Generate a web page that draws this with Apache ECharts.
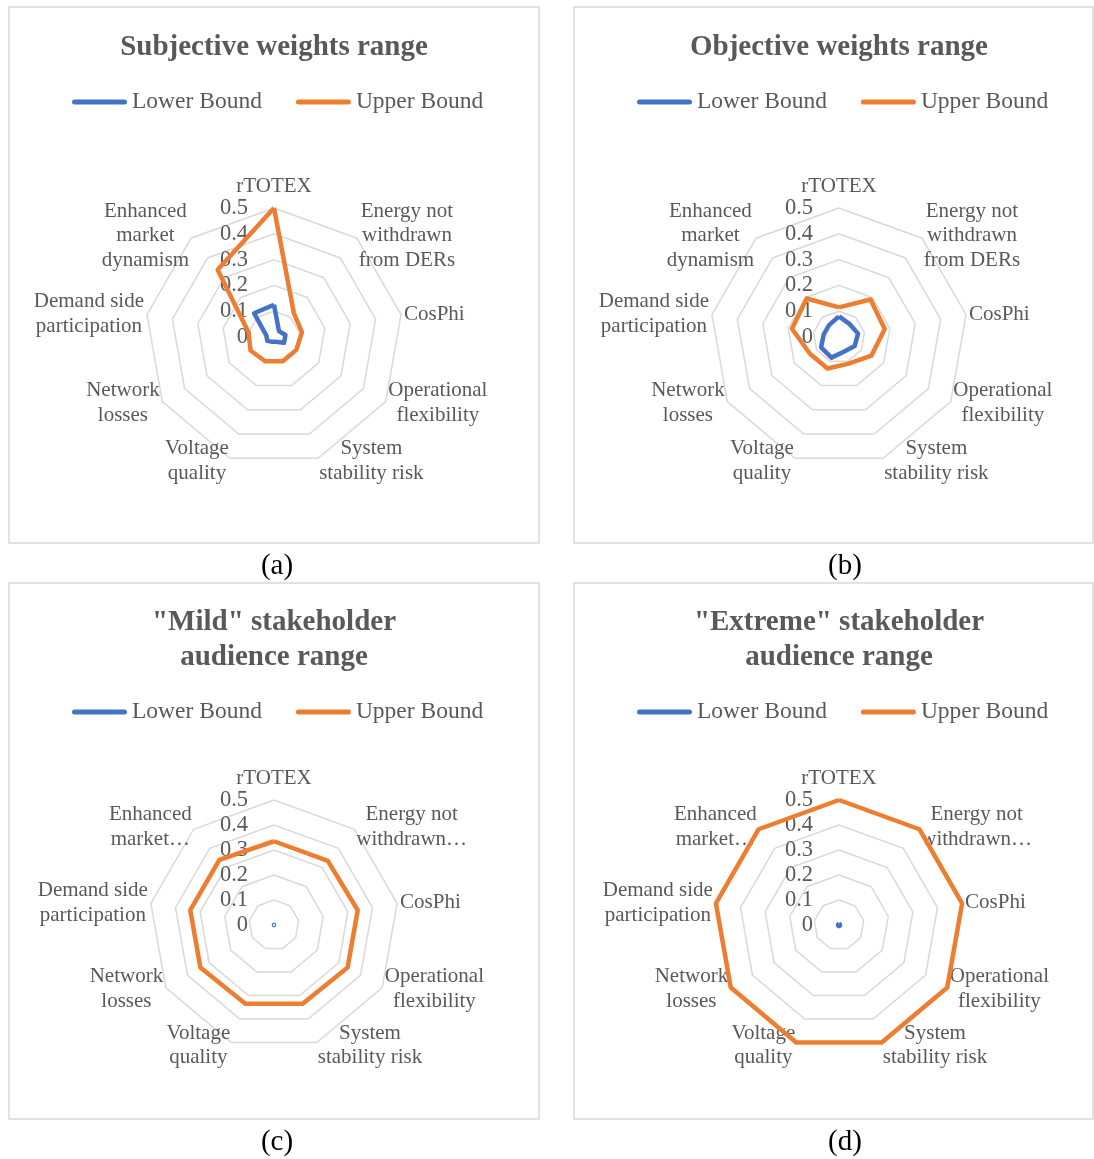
<!DOCTYPE html>
<html>
<head>
<meta charset="utf-8">
<script src="https://cdn.jsdelivr.net/npm/echarts@6/dist/echarts.min.js"></script>
<style>
  html, body { margin: 0; padding: 0; background: #ffffff; }
  #chart { width: 1094px; height: 1159px; }
</style>
</head>
<body>
<div id="chart"></div>
<script>
// Criteria, listed clockwise from the top axis
const categories = [
  'rTOTEX',
  'Energy not withdrawn from DERs',
  'CosPhi',
  'Operational flexibility',
  'System stability risk',
  'Voltage quality',
  'Network losses',
  'Demand side participation',
  'Enhanced market dynamism'
];

// Axis captions (line breaks as typeset); the lower panels use shortened captions
const axisNamesLong = [
  'rTOTEX',
  'Energy not\nwithdrawn\nfrom DERs',
  'CosPhi',
  'Operational\nflexibility',
  'System\nstability risk',
  'Voltage\nquality',
  'Network\nlosses',
  'Demand side\nparticipation',
  'Enhanced\nmarket\ndynamism'
];
const axisNamesShort = [
  'rTOTEX',
  'Energy not\nwithdrawn\u2026',
  'CosPhi',
  'Operational\nflexibility',
  'System\nstability risk',
  'Voltage\nquality',
  'Network\nlosses',
  'Demand side\nparticipation',
  'Enhanced\nmarket\u2026'
];

const seriesNames = ['Lower Bound', 'Upper Bound'];
const axisMin = 0;
const axisMax = 0.5;
const axisSplits = 5;

// (a) Subjective weights range
const subjectiveLower = [0.125, 0.03, 0.045, 0.045, 0.02, 0.02, 0.03, 0.03, 0.12];
const subjectiveUpper = [0.5, 0.12, 0.11, 0.10, 0.10, 0.10, 0.105, 0.10, 0.34];
// (b) Objective weights range
const objectiveLower = [0.08, 0.065, 0.075, 0.07, 0.06, 0.085, 0.08, 0.06, 0.06];
const objectiveUpper = [0.115, 0.19, 0.18, 0.145, 0.11, 0.13, 0.13, 0.185, 0.195];
// (c) "Mild" stakeholder audience range
const mildLower = [0.007, 0.007, 0.007, 0.007, 0.007, 0.007, 0.007, 0.007, 0.007];
const mildUpper = [0.335, 0.335, 0.34, 0.34, 0.335, 0.335, 0.34, 0.34, 0.34];
// (d) "Extreme" stakeholder audience range
const extremeLower = [0.004, 0.004, 0.004, 0.004, 0.004, 0.004, 0.004, 0.004, 0.004];
const extremeUpper = [0.5, 0.5, 0.5, 0.5, 0.5, 0.5, 0.5, 0.5, 0.5];

const panelTitles = [
  'Subjective weights range',
  'Objective weights range',
  '"Mild" stakeholder\naudience range',
  '"Extreme" stakeholder\naudience range'
];
const panelCaptions = ['(a)', '(b)', '(c)', '(d)'];

// ---- styling / layout ----
const SERIF = '"Liberation Serif", "Times New Roman", "DejaVu Serif", serif';
const TEXT_GREY = '#595959';
const GRID_GREY = '#d9d9d9';
const BLUE = '#4472C4';
const ORANGE = '#ED7D31';

// ECharts lays radar axes out counter-clockwise; walk the list backwards after the first
const axisOrder = [0, 8, 7, 6, 5, 4, 3, 2, 1];

const panels = [
  { title: panelTitles[0], caption: panelCaptions[0], lower: subjectiveLower, upper: subjectiveUpper, names: axisNamesLong,
    box: [9, 7, 530, 536], titleY: 30, legendX: 72, legendY: 90, center: [274, 337], radius: 129, lowerWidth: 4.5, captionXY: [277, 550] },
  { title: panelTitles[1], caption: panelCaptions[1], lower: objectiveLower, upper: objectiveUpper, names: axisNamesLong,
    box: [574, 7, 519, 536], titleY: 30, legendX: 637, legendY: 90, center: [839, 337], radius: 129, lowerWidth: 4.5, captionXY: [845, 550] },
  { title: panelTitles[2], caption: panelCaptions[2], lower: mildLower, upper: mildUpper, names: axisNamesShort,
    box: [9, 583, 530, 536], titleY: 605, legendX: 72, legendY: 700, center: [274, 925], radius: 125, lowerWidth: 1.2, captionXY: [277, 1126] },
  { title: panelTitles[3], caption: panelCaptions[3], lower: extremeLower, upper: extremeUpper, names: axisNamesShort,
    box: [574, 583, 519, 536], titleY: 605, legendX: 637, legendY: 700, center: [839, 925], radius: 125, lowerWidth: 4.5, captionXY: [845, 1126] }
];

const legendIcon = 'path://M2.5,0 L52.5,0 A2.5,2.5 0 0 1 52.5,5 L2.5,5 A2.5,2.5 0 0 1 2.5,0 Z';

const reorder = arr => axisOrder.map(i => arr[i]);

// 'c' centres each caption line; 't' is the top caption, dropped to the bottom of its
// line box so it sits just above the outer ring
const nameRich = {
  c: { align: 'center', fontFamily: SERIF, fontSize: 21, lineHeight: 24.5, color: TEXT_GREY },
  t: { align: 'center', fontFamily: SERIF, fontSize: 21, height: 14, lineHeight: 24.5, verticalAlign: 'bottom', color: TEXT_GREY }
};

const formatAxisName = name => {
  if (name === categories[0]) {
    return '{t|' + name + '}';
  }
  return name.split('\n').map(s => '{c|' + s + '}').join('\n');
};

const option = {
  backgroundColor: '#ffffff',
  animation: false,
  title: [],
  legend: [],
  radar: [],
  series: [],
  graphic: []
};

panels.forEach((p, k) => {
  option.graphic.push({
    type: 'rect',
    shape: { x: p.box[0], y: p.box[1], width: p.box[2], height: p.box[3] },
    style: { fill: 'none', stroke: GRID_GREY, lineWidth: 1.5 },
    silent: true,
    z: -1
  });

  option.title.push({
    text: p.title,
    left: p.center[0],
    top: p.titleY,
    padding: 0,
    textAlign: 'center',
    textStyle: { fontFamily: SERIF, fontSize: 29, fontWeight: 'bold', color: TEXT_GREY, lineHeight: 35 }
  });
  option.title.push({
    text: p.caption,
    left: p.captionXY[0],
    top: p.captionXY[1],
    padding: 0,
    textAlign: 'center',
    textStyle: { fontFamily: SERIF, fontSize: 29, fontWeight: 'normal', color: '#000000', lineHeight: 32 }
  });

  option.legend.push({
    left: p.legendX,
    top: p.legendY,
    padding: 0,
    itemWidth: 55,
    itemHeight: 5,
    itemGap: 34,
    icon: legendIcon,
    data: seriesNames.slice(),
    textStyle: { fontFamily: SERIF, fontSize: 23.5, color: TEXT_GREY, lineHeight: 24 }
  });

  const indicators = axisOrder.map((i, n) => {
    const ind = { name: p.names[i], min: axisMin, max: axisMax };
    if (n === 0) {
      // value labels run up the top axis only
      ind.axisLabel = { show: true };
    }
    return ind;
  });

  option.radar.push({
    center: p.center,
    radius: p.radius,
    startAngle: 90,
    splitNumber: axisSplits,
    shape: 'polygon',
    indicator: indicators,
    nameGap: 3,
    axisName: {
      color: TEXT_GREY,
      fontFamily: SERIF,
      fontSize: 21,
      lineHeight: 24.5,
      formatter: formatAxisName,
      rich: nameRich
    },
    axisLine: { show: false },
    axisTick: { show: false },
    axisLabel: { show: false, fontFamily: SERIF, fontSize: 22.5, color: TEXT_GREY, margin: 26 },
    splitLine: { lineStyle: { color: GRID_GREY, width: 1.5 } },
    splitArea: { show: false }
  });

  option.series.push({
    type: 'radar',
    radarIndex: k,
    symbol: 'none',
    data: [
      {
        name: seriesNames[0],
        value: reorder(p.lower),
        itemStyle: { color: BLUE },
        lineStyle: { color: BLUE, width: p.lowerWidth, join: 'round' }
      },
      {
        name: seriesNames[1],
        value: reorder(p.upper),
        itemStyle: { color: ORANGE },
        lineStyle: { color: ORANGE, width: 4.5, join: 'round' }
      }
    ]
  });
});

const chart = echarts.init(document.getElementById('chart'), null, { renderer: 'canvas' });
chart.setOption(option);
</script>
</body>
</html>
